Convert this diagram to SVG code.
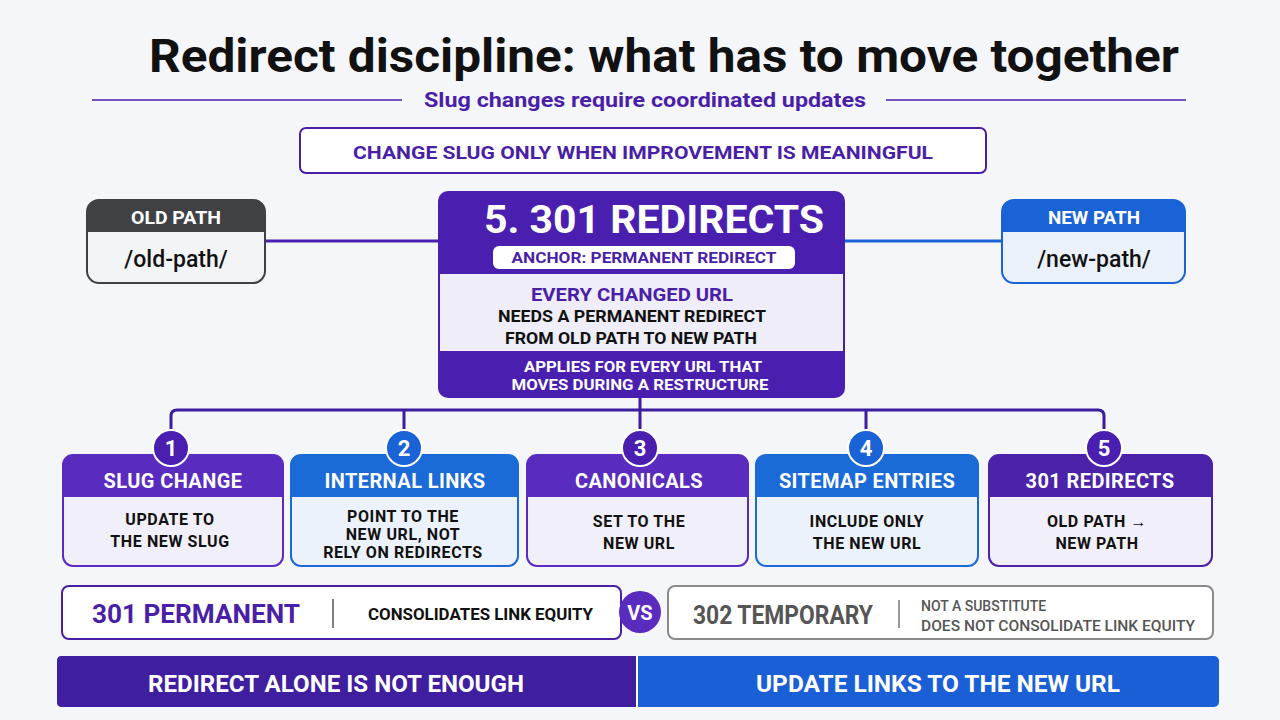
<svg xmlns="http://www.w3.org/2000/svg" width="1280" height="720" viewBox="0 0 1280 720">
<style>
text{font-family:Roboto,"Liberation Sans",Arial,sans-serif;font-weight:700}
.c{text-anchor:middle}
.wh{fill:#ffffff}
.pu{fill:#4a1fa8}
.bk{fill:#111111}
.hd{font-size:20px;letter-spacing:0.4px}
.bd{font-size:16px;letter-spacing:0.6px}
.conn{fill:none;stroke:#3d1ca0;stroke-width:3}
.num{font-size:22px;fill:#fff}
</style>
<rect x="0" y="0" width="1280" height="720" fill="#f5f6fa"/>

<g id="title">
<text x="664" y="72" class="c" font-size="46" fill="#111" textLength="1030" lengthAdjust="spacingAndGlyphs">Redirect discipline: what has to move together</text>
<line x1="92" y1="100" x2="402" y2="100" stroke="#4a1fa8" stroke-width="1.5"/>
<line x1="886" y1="100" x2="1186" y2="100" stroke="#4a1fa8" stroke-width="1.5"/>
<text x="645" y="107" class="c pu" font-size="20" textLength="442" lengthAdjust="spacingAndGlyphs">Slug changes require coordinated updates</text>
</g>

<g id="rule">
<rect x="300" y="128" width="686" height="45" rx="6" fill="#fff" stroke="#4a1fa8" stroke-width="2"/>
<text x="643" y="159" class="c pu" font-size="18" textLength="580" lengthAdjust="spacingAndGlyphs">CHANGE SLUG ONLY WHEN IMPROVEMENT IS MEANINGFUL</text>
</g>

<g id="connectors">
<line x1="265" y1="241" x2="438" y2="241" stroke="#4a1fb0" stroke-width="3"/>
<line x1="845" y1="241" x2="1002" y2="241" stroke="#1a63d6" stroke-width="3"/>
<path class="conn" d="M640 398 V410"/>
<path class="conn" d="M171 432 V416 Q171 410 177 410 H1098 Q1104 410 1104 416 V432"/>
<path class="conn" d="M404 410 V432"/>
<path class="conn" d="M640 410 V432"/>
<path class="conn" d="M866 410 V432"/>
</g>

<g id="old-path">
<rect x="87" y="200" width="178" height="83" rx="12" fill="#f3f4f6" stroke="#3f4145" stroke-width="2"/>
<path d="M87 232 V212 Q87 200 99 200 H253 Q265 200 265 212 V232 Z" fill="#3f4145"/>
<text x="176" y="224" class="c wh" font-size="18" textLength="90" lengthAdjust="spacingAndGlyphs">OLD PATH</text>
<text x="176" y="267" class="c" font-size="23" fill="#111" style="font-weight:500">/old-path/</text>
</g>

<g id="new-path">
<rect x="1002" y="200" width="183" height="83" rx="12" fill="#eaf1fb" stroke="#1a63d6" stroke-width="2"/>
<path d="M1002 232 V212 Q1002 200 1014 200 H1173 Q1185 200 1185 212 V232 Z" fill="#1a63d6"/>
<text x="1094" y="224" class="c wh" font-size="18" textLength="92" lengthAdjust="spacingAndGlyphs">NEW PATH</text>
<text x="1094" y="267" class="c" font-size="23" fill="#111" style="font-weight:500">/new-path/</text>
</g>

<g id="central">
<rect x="438" y="191" width="407" height="207" rx="10" fill="#4a1fb0"/>
<text x="654" y="233" class="c wh" font-size="38" textLength="340" lengthAdjust="spacingAndGlyphs">5. 301 REDIRECTS</text>
<rect x="493" y="246" width="302" height="23" rx="6" fill="#fff"/>
<text x="644" y="263" class="c pu" font-size="15" textLength="265" lengthAdjust="spacingAndGlyphs">ANCHOR: PERMANENT REDIRECT</text>
<rect x="440" y="274" width="403" height="77" fill="#efedf8"/>
<text x="632" y="301" class="c pu" font-size="19" textLength="202" lengthAdjust="spacingAndGlyphs">EVERY CHANGED URL</text>
<text x="632" y="322" class="c bk" font-size="16" textLength="268" lengthAdjust="spacingAndGlyphs">NEEDS A PERMANENT REDIRECT</text>
<text x="631" y="344" class="c bk" font-size="16" textLength="252" lengthAdjust="spacingAndGlyphs">FROM OLD PATH TO NEW PATH</text>
<text x="643" y="372" class="c wh" font-size="15" textLength="238" lengthAdjust="spacingAndGlyphs">APPLIES FOR EVERY URL THAT</text>
<text x="640" y="390" class="c wh" font-size="15" textLength="257" lengthAdjust="spacingAndGlyphs">MOVES DURING A RESTRUCTURE</text>
</g>

<g id="card1">
<rect x="63" y="455" width="220" height="111" rx="10" fill="#f1eff9" stroke="#5a2bbf" stroke-width="2"/>
<path d="M63 497 V465 Q63 455 73 455 H273 Q283 455 283 465 V497 Z" fill="#5a2bbf"/>
<text x="173" y="488" class="c wh hd">SLUG CHANGE</text>
<text x="170" y="525" class="c bk bd">UPDATE TO</text>
<text x="170" y="547" class="c bk bd">THE NEW SLUG</text>
<circle cx="171" cy="448" r="18" fill="#4a1fb0" stroke="#fff" stroke-width="2"/>
<text x="171" y="456" class="c num">1</text>
</g>

<g id="card2">
<rect x="291" y="455" width="227" height="111" rx="10" fill="#ecf2fb" stroke="#1a6ad8" stroke-width="2"/>
<path d="M291 497 V465 Q291 455 301 455 H508 Q518 455 518 465 V497 Z" fill="#1a6ad8"/>
<text x="405" y="488" class="c wh hd">INTERNAL LINKS</text>
<text x="403" y="522" class="c bk bd">POINT TO THE</text>
<text x="403" y="540" class="c bk bd">NEW URL, NOT</text>
<text x="403" y="558" class="c bk bd">RELY ON REDIRECTS</text>
<circle cx="404" cy="448" r="18" fill="#1a63d6" stroke="#fff" stroke-width="2"/>
<text x="404" y="456" class="c num">2</text>
</g>

<g id="card3">
<rect x="527" y="455" width="221" height="111" rx="10" fill="#f1eff9" stroke="#5a2bbf" stroke-width="2"/>
<path d="M527 497 V465 Q527 455 537 455 H738 Q748 455 748 465 V497 Z" fill="#5a2bbf"/>
<text x="639" y="488" class="c wh hd">CANONICALS</text>
<text x="639" y="527" class="c bk bd">SET TO THE</text>
<text x="639" y="549" class="c bk bd">NEW URL</text>
<circle cx="640" cy="448" r="18" fill="#4a1fb0" stroke="#fff" stroke-width="2"/>
<text x="640" y="456" class="c num">3</text>
</g>

<g id="card4">
<rect x="756" y="455" width="222" height="111" rx="10" fill="#ecf2fb" stroke="#1a6ad8" stroke-width="2"/>
<path d="M756 497 V465 Q756 455 766 455 H968 Q978 455 978 465 V497 Z" fill="#1a6ad8"/>
<text x="867" y="488" class="c wh hd">SITEMAP ENTRIES</text>
<text x="867" y="527" class="c bk bd">INCLUDE ONLY</text>
<text x="867" y="549" class="c bk bd">THE NEW URL</text>
<circle cx="866" cy="448" r="18" fill="#1a63d6" stroke="#fff" stroke-width="2"/>
<text x="866" y="456" class="c num">4</text>
</g>

<g id="card5">
<rect x="989" y="455" width="223" height="111" rx="10" fill="#f1eff9" stroke="#4b22a8" stroke-width="2"/>
<path d="M989 497 V465 Q989 455 999 455 H1202 Q1212 455 1212 465 V497 Z" fill="#4b22a8"/>
<text x="1100" y="488" class="c wh hd">301 REDIRECTS</text>
<text x="1097" y="527" class="c bk bd">OLD PATH →</text>
<text x="1097" y="549" class="c bk bd">NEW PATH</text>
<circle cx="1104" cy="448" r="18" fill="#4a1fb0" stroke="#fff" stroke-width="2"/>
<text x="1104" y="456" class="c num">5</text>
</g>

<g id="compare-301">
<rect x="62" y="586" width="559" height="53" rx="7" fill="#fff" stroke="#4a1fa8" stroke-width="2"/>
<text x="92" y="623" class="pu" font-size="26" textLength="208" lengthAdjust="spacingAndGlyphs">301 PERMANENT</text>
<line x1="333" y1="599" x2="333" y2="628" stroke="#555" stroke-width="1.5"/>
<text x="368" y="620" class="bk" font-size="16" textLength="225" lengthAdjust="spacingAndGlyphs">CONSOLIDATES LINK EQUITY</text>
</g>

<g id="vs">
<circle cx="640" cy="612" r="21" fill="#5a2bbf"/>
<text x="640" y="620" class="c wh" font-size="20">VS</text>
</g>

<g id="compare-302">
<rect x="668" y="586" width="545" height="53" rx="7" fill="#fff" stroke="#8a8a8a" stroke-width="2"/>
<text x="693" y="624" fill="#555" font-size="26" textLength="180" lengthAdjust="spacingAndGlyphs">302 TEMPORARY</text>
<line x1="899" y1="600" x2="899" y2="628" stroke="#777" stroke-width="1.5"/>
<text x="921" y="611" fill="#555" font-size="14" style="font-weight:500">NOT A SUBSTITUTE</text>
<text x="921" y="631" fill="#555" font-size="14" style="font-weight:500" textLength="274" lengthAdjust="spacingAndGlyphs">DOES NOT CONSOLIDATE LINK EQUITY</text>
</g>

<g id="banner">
<rect x="57" y="656" width="1162" height="51" rx="5" fill="#1a5fd6"/>
<path d="M62 656 H636 V707 H62 Q57 707 57 702 V661 Q57 656 62 656 Z" fill="#3f1ea0"/>
<line x1="637" y1="656" x2="637" y2="707" stroke="#fff" stroke-width="2"/>
<text x="336" y="692" class="c wh" font-size="24" textLength="376" lengthAdjust="spacingAndGlyphs">REDIRECT ALONE IS NOT ENOUGH</text>
<text x="938" y="692" class="c wh" font-size="24" textLength="364" lengthAdjust="spacingAndGlyphs">UPDATE LINKS TO THE NEW URL</text>
</g>
</svg>
